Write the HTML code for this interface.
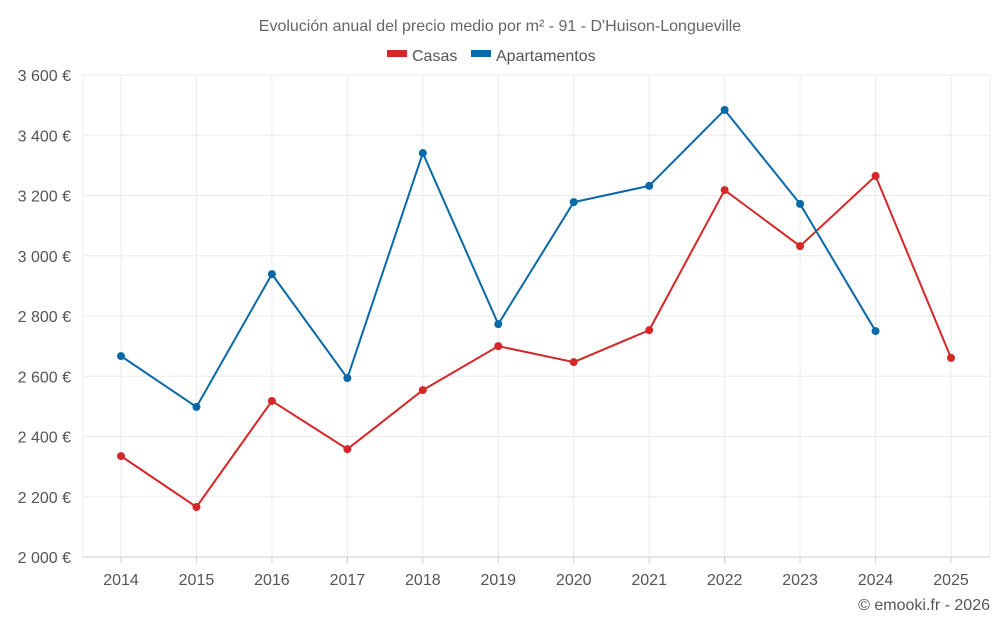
<!DOCTYPE html>
<html><head><meta charset="utf-8"><style>
body{margin:0;background:#fff;font-family:"Liberation Sans",sans-serif;}
</style></head><body>
<svg id="c" width="1000" height="625" xmlns="http://www.w3.org/2000/svg">
<text x="500" y="31" text-anchor="middle" font-size="16" fill="#666">Evolución anual del precio medio por m² - 91 - D'Huison-Longueville</text>
<g><rect x="387" y="50" width="20" height="7" fill="#d62728"/><text x="412" y="61" font-size="16" fill="#555">Casas</text></g>
<g><rect x="471" y="50" width="20" height="7" fill="#0868a8"/><text x="496" y="61" font-size="16" fill="#555">Apartamentos</text></g>
<text x="990" y="610" text-anchor="end" font-size="16" fill="#555">© emooki.fr - 2026</text>
</svg>
<script>
const years=[2014,2015,2016,2017,2018,2019,2020,2021,2022,2023,2024,2025];
const casas=[2335,2166,2518,2358,2554,2700,2647,2753,3218,3032,3265,2661];
const apartamentos=[2667,2498,2939,2594,3341,2773,3178,3232,3484,3172,2750,null];
const yTicks=[2000,2200,2400,2600,2800,3000,3200,3400,3600];
const svg=document.getElementById('c');const NS='http://www.w3.org/2000/svg';
const L=83,R=990,T=75,B=557;
const x=i=>121+i*(951-121)/(years.length-1);
const y=v=>B-(v-2000)/(3600-2000)*(B-T);
function mk(t,a,p){const e=document.createElementNS(NS,t);for(const k in a)e.setAttribute(k,a[k]);if(p)p.appendChild(e);return e;}
const g=mk('g',{},svg);


yTicks.forEach(v=>{mk('line',{x1:L,x2:R,y1:y(v),y2:y(v),stroke:'#ebebeb'},g);
const t=mk('text',{x:71,y:y(v)+6,'text-anchor':'end','font-size':16,fill:'#555'},svg);t.textContent=v.toLocaleString('fr-FR').replace(/\s/g,' ')+' €';

});
mk('line',{x1:L,x2:L,y1:T,y2:B,stroke:'#ebebeb'},g);mk('line',{x1:R,x2:R,y1:T,y2:B,stroke:'#ebebeb'},g);
years.forEach((yr,i)=>{mk('line',{x1:x(i),x2:x(i),y1:T,y2:B,stroke:'#ebebeb'},g);
mk('line',{x1:x(i),x2:x(i),y1:B,y2:B+6,stroke:'#ccc'},svg);
const t=mk('text',{x:x(i),y:585,'text-anchor':'middle','font-size':16,fill:'#555'},svg);t.textContent=yr;

});
mk('line',{x1:L,x2:R,y1:B,y2:B,stroke:'#ccc'},svg);
function series(data,col,name){const s=mk('g',{},svg);


let d='';data.forEach((v,i)=>{if(v==null)return;d+=(d?'L':'M')+x(i)+','+y(v);});
mk('path',{d:d,fill:'none',stroke:col,'stroke-width':2},s);
data.forEach((v,i)=>{if(v==null)return;const c=mk('circle',{cx:x(i),cy:y(v),r:4,fill:col},s);

});}
series(casas,'#d62728','casas-series');
series(apartamentos,'#0868a8','apartamentos-series');
</script>
</body></html>
